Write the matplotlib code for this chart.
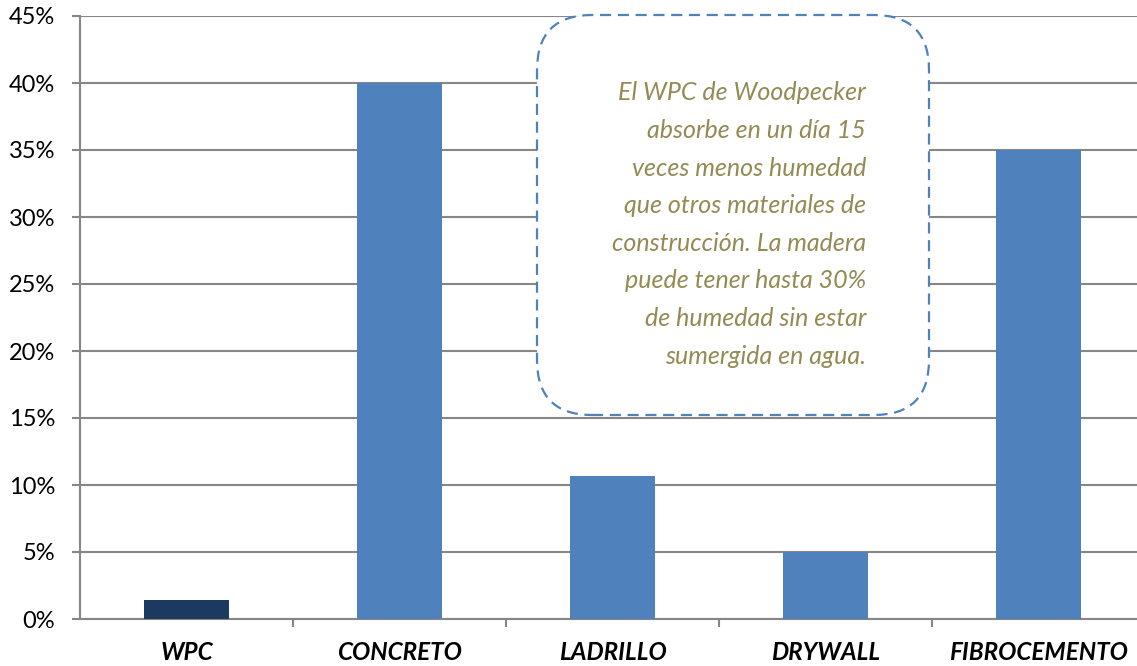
import matplotlib
matplotlib.use("Agg")
import matplotlib.pyplot as plt
from matplotlib.patches import FancyBboxPatch
from matplotlib.ticker import PercentFormatter, FixedLocator

plt.rcParams['font.family'] = ['Lato', 'DejaVu Sans']

# data
categories = ["WPC", "CONCRETO", "LADRILLO", "DRYWALL", "FIBROCEMENTO"]
absorption = [1.4, 40.0, 10.7, 5.0, 35.0]
bar_colors = ["#1C3A60", "#4F81BD", "#4F81BD", "#4F81BD", "#4F81BD"]
y_ticks = [0, 5, 10, 15, 20, 25, 30, 35, 40, 45]

note_lines = [
    "El WPC de Woodpecker",
    "absorbe en un día 15",
    "veces menos humedad",
    "que otros materiales de",
    "construcción. La madera",
    "puede tener hasta 30%",
    "de humedad sin estar",
    "sumergida en agua.",
]

W, H = 1137, 666
fig = plt.figure(figsize=(W / 100, H / 100), dpi=100)
ax = fig.add_axes([80 / W, 47 / H, 1065 / W, 603 / H])

ax.bar(range(len(categories)), absorption, width=0.4, color=bar_colors, zorder=3)

ax.set_xlim(-0.5, len(categories) - 0.5)
ax.set_ylim(0, 45)
ax.yaxis.set_major_locator(FixedLocator(y_ticks))
ax.yaxis.set_major_formatter(PercentFormatter(decimals=0))
ax.grid(axis='y', color='#868686', linewidth=1.5, zorder=0)

# category labels centred, ticks at the boundaries
ax.set_xticks(range(len(categories)))
ax.set_xticklabels(categories, fontsize=17.5, fontweight='bold', fontstyle='italic')
ax.tick_params(axis='x', length=0, pad=16)
ax.set_xticks([i + 0.5 for i in range(len(categories) - 1)], minor=True)
ax.tick_params(axis='x', which='minor', length=6, width=1.5, color='#868686')
ax.tick_params(axis='y', length=6, width=1.5, color='#868686', labelsize=17, pad=12)

for side in ['top', 'right']:
    ax.spines[side].set_visible(False)
ax.spines['left'].set_color('#868686')
ax.spines['left'].set_linewidth(1.5)
ax.spines['bottom'].set_color('#868686')
ax.spines['bottom'].set_linewidth(1.5)

# callout box, positioned in inches from bottom-left of the figure
box = FancyBboxPatch((5.37, 2.51), 3.92, 4.0,
                     boxstyle="round,pad=0,rounding_size=0.55",
                     transform=fig.dpi_scale_trans, facecolor='white',
                     edgecolor='#4F81BD', linewidth=1.6, linestyle=(0, (5, 3)),
                     zorder=5)
fig.add_artist(box)

for i, line in enumerate(note_lines):
    fig.text(8.66, (H - 93 - i * 37.6) / 100, line, transform=fig.dpi_scale_trans,
             ha='right', va='center', fontsize=18, fontstyle='italic',
             color='#948A54', zorder=6)

fig.savefig("out.png", dpi=100)
